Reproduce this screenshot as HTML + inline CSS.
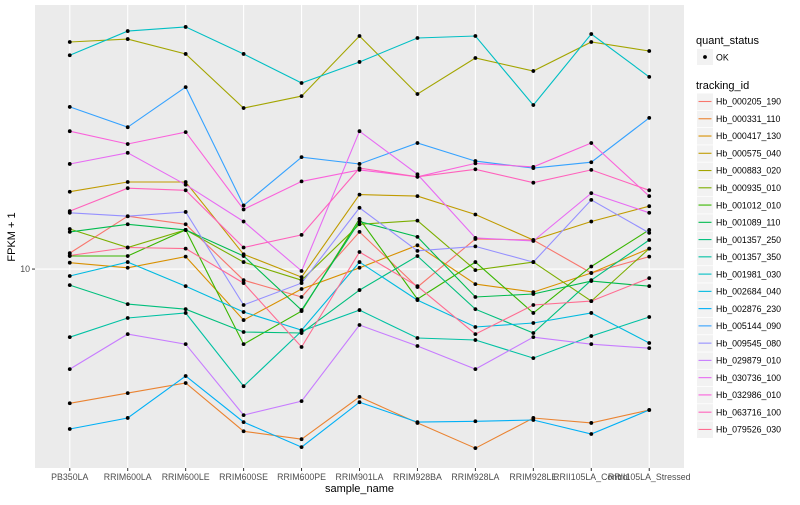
<!DOCTYPE html>
<html><head><meta charset="utf-8"><style>
body{margin:0;background:#fff;font-family:"Liberation Sans",sans-serif;}
svg text{font-family:"Liberation Sans",sans-serif;}
</style></head><body>
<svg id="chart" width="800" height="500" xmlns="http://www.w3.org/2000/svg">
<rect x="0" y="0" width="800" height="500" fill="#fff"/>
<rect x="35" y="5" width="649" height="463" fill="#EBEBEB"/>
<g id="grid"></g><g id="lines"></g><g id="points"></g><g id="axes"></g><g id="legend"></g>
</svg>
<script>
const categories = ["PB350LA","RRIM600LA","RRIM600LE","RRIM600SE","RRIM600PE","RRIM901LA","RRIM928BA","RRIM928LA","RRIM928LE","RRII105LA_Control","RRII105LA_Stressed"];
const seriesNames = ["Hb_000205_190","Hb_000331_110","Hb_000417_130","Hb_000575_040","Hb_000883_020","Hb_000935_010","Hb_001012_010","Hb_001089_110","Hb_001357_250","Hb_001357_350","Hb_001981_030","Hb_002684_040","Hb_002876_230","Hb_005144_090","Hb_009545_080","Hb_029879_010","Hb_030736_100","Hb_032986_010","Hb_063716_100","Hb_079526_030"];
const colors = ["#F8766D","#EA8331","#D89000","#C09B00","#A3A500","#7CAE00","#39B600","#00BB4E","#00BF7D","#00C1A3","#00BFC4","#00BAE0","#00B0F6","#35A2FF","#9590FF","#C77CFF","#E76BF3","#FA62DB","#FF62BC","#FF6C91"];
const s000205 = [11.3,15.0,14.1,9.18,8.07,13.3,8.71,12.6,12.5,9.70,11.0];
const s000331 = [3.57,3.86,4.17,2.88,2.71,3.75,3.07,2.53,3.19,3.07,3.39];
const s000417 = [10.5,10.1,11.0,6.76,8.58,10.1,12.0,8.91,8.38,9.70,11.7];
const s000575 = [18.1,19.5,19.5,11.2,9.4,17.7,17.5,15.2,12.5,14.4,16.2];
const s000883 = [57.1,58.4,52.1,34.4,37.7,59.8,38.3,50.5,45.7,57.1,53.3];
const s000935 = [13.6,11.8,13.5,10.55,9.18,14.1,14.5,9.92,10.55,7.82,11.7];
const s001012 = [11.05,11.05,13.5,5.62,7.24,14.7,7.94,10.55,7.14,10.2,13.5];
const s001089 = [13.3,14.1,13.5,11.05,7.30,14.4,12.8,8.07,8.26,9.12,8.77];
const s001357a = [8.84,7.64,7.35,6.17,6.12,8.51,11.05,7.35,6.12,9.18,12.5];
const s001357b = [5.93,6.87,7.14,4.07,6.21,7.30,5.89,5.80,5.05,5.98,6.92];
const s001981 = [51.6,62.1,64.1,52.1,41.7,49.0,58.9,59.8,35.2,60.7,43.7];
const s002684 = [9.48,10.55,8.77,7.19,6.26,10.55,7.88,6.41,6.61,7.14,5.67];
const s002876 = [2.93,3.19,4.40,3.09,2.55,3.60,3.09,3.11,3.14,2.82,3.39];
const s005144 = [34.7,29.7,40.4,16.3,23.6,22.4,26.3,22.9,21.7,22.7,31.9];
const s009545 = [15.4,15.0,15.5,7.59,8.98,16.0,11.5,11.9,10.55,17.0,13.2];
const s029879 = [4.64,6.07,5.62,3.26,3.63,6.51,5.54,4.64,5.93,5.62,5.45];
const s030736 = [22.4,24.4,19.1,14.4,9.85,28.8,20.7,12.7,12.4,17.9,15.4];
const s032986 = [28.8,26.1,28.6,15.8,19.6,21.4,20.3,22.5,21.9,26.3,17.5];
const s063716 = [15.6,18.6,18.3,11.8,13.0,21.7,20.3,21.5,19.4,21.4,18.3];
const s079526 = [11.1,11.8,11.7,8.98,5.50,11.4,8.77,6.07,7.59,7.82,9.33];
const yTickValues = [10];
const yTickLabels = ["10"];

const allSeries = [s000205,s000331,s000417,s000575,s000883,s000935,s001012,s001089,s001357a,s001357b,s001981,s002684,s002876,s005144,s009545,s029879,s030736,s032986,s063716,s079526];
const NS="http://www.w3.org/2000/svg";
const px0=35, px1=684, py0=5, py1=468;
const logMin=0.337, logMax=1.88;
function xScale(i){ const step=(px1-px0)/(categories.length-1+1.2); return px0+0.6*step+i*step; }
function yScale(v){ return py1-(Math.log10(v)-logMin)/(logMax-logMin)*(py1-py0); }
function mk(tag,attrs,parent){const e=document.createElementNS(NS,tag);for(const k in attrs)e.setAttribute(k,attrs[k]);parent.appendChild(e);return e;}
const grid=document.getElementById('grid'),lines=document.getElementById('lines'),pts=document.getElementById('points'),axes=document.getElementById('axes'),leg=document.getElementById('legend');
categories.forEach((c,i)=>{
  const x=xScale(i);
  const g=mk('line',{x1:x,x2:x,y1:py0,y2:py1,stroke:'#fff','stroke-width':1.1},grid);
  
  
  const t=mk('line',{x1:x,x2:x,y1:py1,y2:py1+3,stroke:'#333','stroke-width':1},axes);
  
  
  const l=mk('text',{x:x,y:py1+12,'text-anchor':'middle','font-size':'8.8',fill:'#4D4D4D'},axes);
  l.textContent=c;
  
  
});
yTickValues.forEach((v,i)=>{
  const y=yScale(v);
  const g=mk('line',{x1:px0,x2:px1,y1:y,y2:y,stroke:'#fff','stroke-width':1.1},grid);
  
  
  const t=mk('line',{x1:px0-3,x2:px0,y1:y,y2:y,stroke:'#333','stroke-width':1},axes);
  
  
  const l=mk('text',{x:px0-5,y:y+3,'text-anchor':'end','font-size':'8.8',fill:'#4D4D4D'},axes);
  l.textContent=yTickLabels[i];
  
  
});
allSeries.forEach((s,k)=>{
  const d=s.map((v,i)=>(i?'L':'M')+xScale(i).toFixed(1)+','+yScale(v).toFixed(1)).join(' ');
  const p=mk('path',{d:d,fill:'none',stroke:colors[k],'stroke-width':1.1},lines);
  
  
  s.forEach((v,i)=>{
    const c=mk('circle',{cx:xScale(i),cy:yScale(v),r:1.9,fill:'#000'},pts);
    
    
  });
});
const xt=mk('text',{x:(px0+px1)/2,y:492,'text-anchor':'middle','font-size':'11',fill:'#000'},axes);
xt.textContent='sample_name';


const yt=mk('text',{x:0,y:0,'text-anchor':'middle','font-size':'11',fill:'#000',transform:'translate(15,237) rotate(-90)'},axes);
yt.textContent='FPKM + 1';


// legend
const qt=mk('text',{x:696,y:44,'font-size':'11',fill:'#000'},leg);
qt.textContent='quant_status';


const qb=mk('rect',{x:697,y:49,width:16,height:16,fill:'#F2F2F2'},leg);


const qd=mk('circle',{cx:705,cy:57,r:1.9,fill:'#000'},leg);


const qo=mk('text',{x:716,y:60.5,'font-size':'8.8',fill:'#000'},leg);
qo.textContent='OK';


const tt=mk('text',{x:696,y:89,'font-size':'11',fill:'#000'},leg);
tt.textContent='tracking_id';


seriesNames.forEach((n,k)=>{
  const cy=101.5+k*17.26;
  const b=mk('rect',{x:697,y:cy-8,width:16,height:16.5,fill:'#F2F2F2'},leg);
  
  
  const l=mk('line',{x1:698.5,x2:711.5,y1:cy,y2:cy,stroke:colors[k],'stroke-width':1.1},leg);
  
  
  const t=mk('text',{x:716,y:cy+3.2,'font-size':'8.8',fill:'#000'},leg);
  t.textContent=n;
  
  
});
</script>
</body></html>
